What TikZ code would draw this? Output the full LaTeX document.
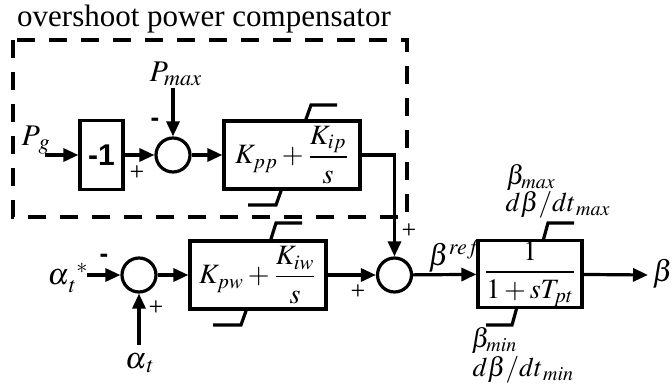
\documentclass[tikz,border=0pt]{standalone}
\usepackage{mathptmx}
\usepackage{fontspec}
\setmainfont{Liberation Serif}
\newfontfamily\arialf{Liberation Sans}
\usetikzlibrary{arrows.meta,calc}
\begin{document}
\begin{tikzpicture}[x=0.5pt,y=-0.5pt,
  line width=1.6pt,
  blk/.style={draw,line width=1.6pt,inner sep=0pt},
  sumc/.style={draw,circle,line width=1.6pt,minimum size=17pt,inner sep=0pt},
  arr/.style={-{Triangle[length=7.5pt,width=6.5pt]}},
  lbl/.style={inner sep=0pt,font=\fontsize{15}{17}\selectfont},
  sml/.style={inner sep=0pt,font=\fontsize{13.5}{15}\selectfont},
  sgn/.style={inner sep=0pt,font=\fontsize{13}{15}\selectfont},
  msg/.style={inner sep=0pt,font=\arialf\bfseries\fontsize{13}{15}\selectfont},
  lim/.style={line width=1.6pt}]
\useasboundingbox (0,0) rectangle (672,389);
% dashed compensator frame
\draw[dashed,dash pattern=on 9pt off 7pt] (13,40) rectangle (407,217);
\node[inner sep=0pt,font=\fontsize{15.5}{18}\selectfont] (title) at (204,19) {overshoot power compensator};
% blocks
\node[blk,minimum width=21.5pt,minimum height=34.5pt,font=\arialf\bfseries\fontsize{15}{17}\selectfont] (neg) at (101.5,155) {-1};
\node[sumc] (s1) at (173,155) {};
\node[blk,minimum width=68pt,minimum height=34pt,font=\fontsize{14}{16}\selectfont] (pp) at (292,155) {$K_{pp}+{\displaystyle\frac{K_{ip}}{s}}$};
\node[sumc] (s3) at (139,275) {};
\node[blk,minimum width=68pt,minimum height=34pt,font=\fontsize{14}{16}\selectfont] (pw) at (258,275) {$K_{pw}+{\displaystyle\frac{K_{iw}}{s}}$};
\node[sumc] (s2) at (394.5,275) {};
\node[blk,minimum width=52pt,minimum height=33.5pt,font=\fontsize{14}{16}\selectfont] (lag) at (530,274) {${\displaystyle\frac{1}{1+sT_{pt}}}$};
% limiters
\draw[lim] (305,122) -- (311,105) -- (337,105);
\draw[lim] (282,188) -- (276,205) -- (248,205);
\draw[lim] (270,242) -- (276,223) -- (302,223);
\draw[lim] (247,308) -- (241,325) -- (213,325);
\draw[lim] (543,241) -- (548,223) -- (574,223);
\draw[lim] (517,307) -- (512,325) -- (486,325);
% free ends
\coordinate (pgin) at (45,155);
\coordinate (pmaxin) at (173,88);
\coordinate (asin) at (87,275);
\coordinate (ain) at (139,345);
\coordinate (bout) at (648,275);
% connectors
\draw[arr] (pgin) -- (neg);
\draw[arr] (neg) -- (s1);
\draw[arr] (pmaxin) -- (s1);
\draw[arr] (s1) -- (pp);
\draw[arr] (pp.east) -| (s2.north);
\draw[arr] (asin) -- (s3);
\draw[arr] (ain) -- (s3);
\draw[arr] (s3) -- (pw);
\draw[arr] (pw) -- (s2);
\draw[arr] (s2) -- (lag);
\draw[arr] (lag) -- (bout);
% labels
\node[lbl,anchor=west] (pg) at (20,140) {$P_{\,g}$};
\node[lbl,anchor=west] (pmax) at (148,74) {$P_{max}$};
\node[msg] (m1) at (155,122) {-};
\node[sgn] (p1) at (137,173) {+};
\node[lbl,anchor=west] (ast) at (46,278) {$\alpha_{\,t}^{\;\,*}$};
\node[msg] (m3) at (104,258) {-};
\node[sgn] (p3) at (156,308) {+};
\node[lbl] (abot) at (140,363) {$\alpha_{\,t}$};
\node[sgn] (p4) at (358,292) {+};
\node[sgn] (p5) at (409,231) {+};
\node[lbl,anchor=west] (bref) at (427,256) {$\beta^{ref}$};
\node[lbl,anchor=west] (bo) at (651,274) {$\beta$};
\node[sml,anchor=west] (bmax) at (505,177) {$\beta_{max}$};
\node[sml,anchor=west] (dbmax) at (504,205) {$d\beta/dt_{\,max}$};
\node[sml,anchor=west] (bmin) at (470,340) {$\beta_{min}$};
\node[sml,anchor=west] (dbmin) at (471,370) {$d\beta/dt_{\,min}$};
\end{tikzpicture}
\end{document}
